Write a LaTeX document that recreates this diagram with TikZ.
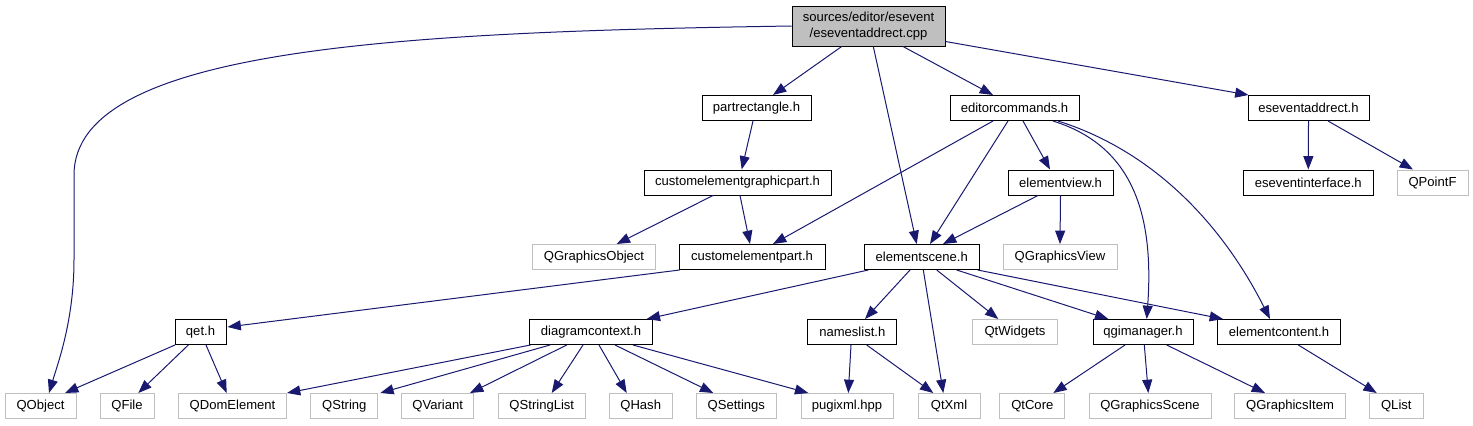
\documentclass[tikz,border=0pt]{standalone}
\usepackage{fontspec}
\setmainfont{Liberation Sans}
\usetikzlibrary{arrows.meta,calc}
\definecolor{edgec}{HTML}{191970}
\definecolor{gborder}{HTML}{BFBFBF}
\definecolor{rootfill}{HTML}{BFBFBF}
\begin{document}
\begin{tikzpicture}[x=0.75pt,y=-0.75pt,
  box/.style={draw=black, line width=0.75pt, minimum height=18.75pt, inner sep=0pt, font=\fontsize{9.8}{11.5}\selectfont},
  wb/.style={box, minimum width=#1*0.75pt},
  gb/.style={box, draw=gborder, minimum width=#1*0.75pt},
  edge/.style={draw=edgec, line width=0.75pt, -{Triangle[length=10pt,width=7.5pt]}}]
\useasboundingbox (0,0) rectangle (1473,425);
% nodes
\node[wb=153, minimum height=30pt, fill=rootfill, align=center] (root) at (868.5,26) {sources/editor/esevent\\/eseventaddrect.cpp};
\node[wb=109] (partrect) at (756.5,108) {partrectangle.h};
\node[wb=129] (editor) at (1014.5,108) {editorcommands.h};
\node[wb=121] (esevh) at (1308.5,108) {eseventaddrect.h};
\node[wb=187] (cegp) at (737.5,182.5) {customelementgraphicpart.h};
\node[wb=105] (eview) at (1060.5,182.5) {elementview.h};
\node[wb=130] (esint) at (1308.3,182.5) {eseventinterface.h};
\node[gb=71] (qpointf) at (1432.5,182.5) {QPointF};
\node[gb=123] (qgo) at (594,257) {QGraphicsObject};
\node[wb=146] (cep) at (752,257) {customelementpart.h};
\node[wb=115] (escene) at (921.7,257) {elementscene.h};
\node[gb=114] (qgview) at (1060,257) {QGraphicsView};
\node[wb=51] (qet) at (200.5,332) {qet.h};
\node[wb=123] (dctx) at (591,332) {diagramcontext.h};
\node[wb=89] (nlist) at (852.3,332) {nameslist.h};
\node[gb=85] (qtw) at (1015,332) {QtWidgets};
\node[wb=100] (qgim) at (1143,332) {qgimanager.h};
\node[wb=123] (econt) at (1279,332) {elementcontent.h};
\node[gb=71] (qobject) at (40.5,406) {QObject};
\node[gb=54] (qfile) at (127,406) {QFile};
\node[gb=108] (qdom) at (232.5,406) {QDomElement};
\node[gb=67] (qstring) at (344.3,406) {QString};
\node[gb=72] (qvariant) at (437.7,406) {QVariant};
\node[gb=87] (qstrlist) at (541.8,406) {QStringList};
\node[gb=63] (qhash) at (640.7,406) {QHash};
\node[gb=80] (qsettings) at (736.3,406) {QSettings};
\node[gb=92] (pugi) at (847,406) {pugixml.hpp};
\node[gb=62] (qtxml) at (949,406) {QtXml};
\node[gb=65] (qtcore) at (1032.3,406) {QtCore};
\node[gb=122] (qgscene) at (1150,406) {QGraphicsScene};
\node[gb=111] (qgitem) at (1290,406) {QGraphicsItem};
\node[gb=54] (qlist) at (1396.3,406) {QList};
\coordinate (qoA) at (74,175);
\coordinate (qoB) at (74,260);
% edges from root
\draw[edge] (root.west) .. controls +(-392,6) and +(0,-127) .. (qoA) -- (qoB) .. controls +(0,60) and +(9,-30) .. ($(qobject.north)+(8.5,0)$);
\draw[edge] ($(root.south)+(-26.8,0)$) -- ($(partrect.north)+(16.5,0)$);
\draw[edge] ($(root.south)+(4.8,0)$) -- ($(escene.north)+(-5,0)$);
\draw[edge] ($(root.south)+(34.5,0)$) -- ($(editor.north)+(-21.5,0)$);
\draw[edge] ($(root.south east)+(0,-5)$) -- ($(esevh.north west)+(1,0)$);
% row 1
\draw[edge] ($(partrect.south)+(-3.5,0)$) -- ($(cegp.north)+(4.2,0)$);
\draw[edge] ($(editor.south)+(-21.5,0)$) -- ($(cep.north)+(21,0)$);
\draw[edge] ($(editor.south)+(-6.5,0)$) -- ($(escene.north)+(8.3,0)$);
\draw[edge] ($(editor.south)+(8.5,0)$) -- ($(eview.north)+(-10.5,0)$);
\draw[edge] ($(editor.south)+(38.5,0)$) .. controls +(77,24) and +(8,-109) .. ($(qgim.north)+(3.7,0)$);
\draw[edge] ($(editor.south)+(43.5,0)$) .. controls +(92,29) and +(-50,-99) .. ($(econt.north)+(-9,0)$);
\draw[edge] (esevh.south) -- (esint.north);
\draw[edge] ($(esevh.south)+(19.5,0)$) -- ($(qpointf.north)+(-19.5,0)$);
% row 2
\draw[edge] ($(cegp.south)+(-24.5,0)$) -- ($(qgo.north)+(22.7,0)$);
\draw[edge] ($(cegp.south)+(2.5,0)$) -- ($(cep.north)+(-2,0)$);
\draw[edge] ($(eview.south)+(-22.5,0)$) -- ($(escene.north)+(21.3,0)$);
\draw[edge] (eview.south) -- (qgview.north);
% row 3
\draw[edge] ($(cep.south west)+(1,0)$) -- ($(qet.east)+(1,-5)$);
\draw[edge] ($(escene.south)+(-53.4,0)$) -- ($(dctx.north)+(55.7,0)$);
\draw[edge] ($(escene.south)+(-11.7,0)$) -- ($(nlist.north)+(12.7,0)$);
\draw[edge] ($(escene.south)+(1.6,0)$) -- ($(qtxml.north)+(-5.7,0)$);
\draw[edge] ($(escene.south)+(15,0)$) -- ($(qtw.north)+(-16.7,0)$);
\draw[edge] ($(escene.south)+(35,0)$) -- ($(qgim.north)+(-34.7,0)$);
\draw[edge] ($(escene.south east)+(-2,0)$) -- ($(econt.north west)+(6,0)$);
% row 4
\draw[edge] ($(qet.south)+(-25.5,0)$) -- ($(qobject.north)+(24.5,0)$);
\draw[edge] ($(qet.south)+(-12.2,0)$) -- ($(qfile.north)+(11.3,0)$);
\draw[edge] ($(qet.south)+(5.5,0)$) -- ($(qdom.north)+(-5.8,0)$);
\draw[edge] ($(dctx.south west)+(1.5,0)$) -- (qdom.north east);
\draw[edge] ($(dctx.south)+(-41,0)$) -- ($(qstring.north east)+(2,0)$);
\draw[edge] ($(dctx.south)+(-24.3,0)$) -- ($(qvariant.north)+(32.3,0)$);
\draw[edge] ($(dctx.south)+(-8,0)$) -- ($(qstrlist.north)+(9.9,0)$);
\draw[edge] ($(dctx.south)+(8,0)$) -- ($(qhash.north)+(-14,0)$);
\draw[edge] ($(dctx.south)+(24,0)$) -- ($(qsettings.north)+(-23,0)$);
\draw[edge] ($(dctx.south)+(42,0)$) -- ($(pugi.north)+(-38.7,0)$);
\draw[edge] ($(nlist.south)+(-1.3,0)$) -- ($(pugi.north)+(1.3,0)$);
\draw[edge] ($(nlist.south)+(14.4,0)$) -- ($(qtxml.north)+(-15.7,0)$);
\draw[edge] ($(qgim.south)+(-18,0)$) -- ($(qtcore.north)+(21,0)$);
\draw[edge] ($(qgim.south)+(1.3,0)$) -- ($(qgscene.north)+(-1.7,0)$);
\draw[edge] ($(qgim.south)+(23.7,0)$) -- ($(qgitem.north)+(-25,0)$);
\draw[edge] ($(econt.south)+(19.3,0)$) -- ($(qlist.north)+(-19.6,0)$);
\end{tikzpicture}
\end{document}
